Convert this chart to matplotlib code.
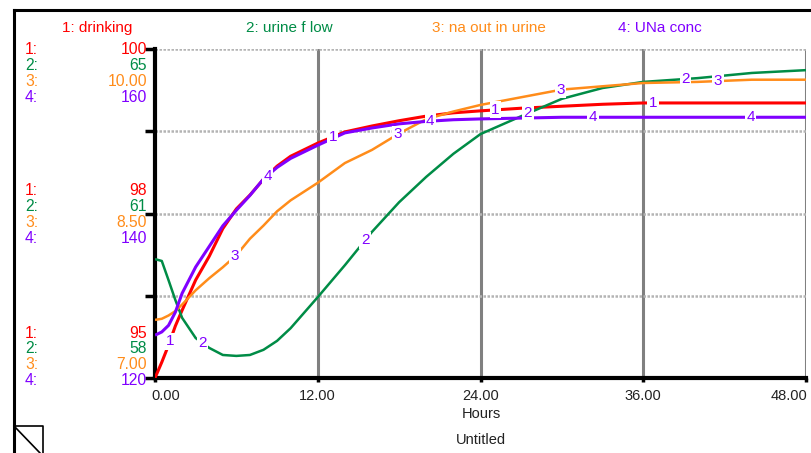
import numpy as np
import matplotlib.pyplot as plt
from matplotlib.lines import Line2D
from matplotlib.transforms import ScaledTranslation

plt.rcParams['font.family'] = ['Liberation Sans', 'DejaVu Sans']

# simulation output (hours)
hours = [0, 0.5, 1, 1.5, 2, 3, 4, 5, 6, 7, 8, 9, 10, 12, 14, 16, 18, 20, 22, 24,
         27, 30, 33, 36, 40, 44, 48]
drinking = [95.0, 95.24, 95.5, 95.79, 96.03, 96.49, 96.85, 97.27, 97.57, 97.78,
            98.02, 98.22, 98.37, 98.57, 98.74, 98.83, 98.91, 98.98, 99.03, 99.06,
            99.10, 99.13, 99.16, 99.18, 99.18, 99.18, 99.18]
urine_flow = [60.53, 60.49, 60.08, 59.66, 59.28, 58.85, 58.64, 58.49, 58.47, 58.49,
              58.60, 58.79, 59.06, 59.72, 60.40, 61.11, 61.74, 62.28, 62.77, 63.19,
              63.57, 63.94, 64.17, 64.30, 64.38, 64.49, 64.55]
na_out = [7.53, 7.54, 7.57, 7.61, 7.67, 7.80, 7.91, 8.01, 8.12, 8.27,
          8.39, 8.52, 8.62, 8.78, 8.96, 9.08, 9.23, 9.36, 9.43, 9.49,
          9.56, 9.63, 9.66, 9.69, 9.70, 9.72, 9.72]
una_conc = [125.2, 125.6, 126.4, 128.0, 130.3, 133.5, 136.0, 138.5, 140.4, 142.2,
            144.2, 145.6, 146.7, 148.3, 149.8, 150.4, 150.9, 151.2, 151.4, 151.5,
            151.6, 151.7, 151.7, 151.7, 151.7, 151.7, 151.7]

names = ["drinking", "urine f low", "na out in urine", "UNa conc"]
series = [drinking, urine_flow, na_out, una_conc]
scale_lo = [95, 58, 7, 120]
scale_hi = [100, 65, 10, 160]
scale_top = ["100", "65", "10.00", "160"]
scale_mid = ["98", "61", "8.50", "140"]
scale_bot = ["95", "58", "7.00", "120"]
colors = ["#ff0000", "#008c46", "#ff8c1a", "#8000ff"]
xticks = [0, 12, 24, 36, 48]

W, H = 811, 453
fig = plt.figure(figsize=(W / 100, H / 100), dpi=100)
ax = fig.add_axes([155 / W, 1 - 378 / H, (806 - 155) / W, 329 / H])

# grid
for x in xticks[1:]:
    ax.axvline(x, color="#808080", lw=2.2, zorder=1)
for y in [0.25, 0.5, 0.75, 1.0]:
    ax.axhline(y, color="#b4b4b4", lw=1.8, ls=(0, (1, 0.6)), zorder=1)

# each variable on its own scale
widths = [2.2, 1.8, 1.8, 2.2]
for k, (vals, lo, hi, c) in enumerate(zip(series, scale_lo, scale_hi, colors)):
    v = (np.array(vals) - lo) / (hi - lo)
    ax.plot(hours, v, color=c, lw=widths[k], zorder=3 + k, solid_capstyle="butt")

# number labels along the curves
label_spacing = 2.4
for i in range(4):
    for k in range(4):
        t = 1.1 + 12 * i + label_spacing * k
        if i > 0:
            t = 13.1 + (i - 1) * 12 + label_spacing * k - (0.4 if i == 3 else 0)
        v = (np.interp(t, hours, series[k]) - scale_lo[k]) / (scale_hi[k] - scale_lo[k])
        ax.text(t, v, str(k + 1), color="#8000ff", fontsize=11, ha="center",
                va="center", zorder=10,
                bbox=dict(boxstyle="square,pad=0.1", fc="white", ec="none"))

ax.set_xlim(0, 48)
ax.set_ylim(0, 1)
ax.set_yticks([0, 0.25, 0.5, 0.75, 1.0])
ax.set_yticklabels([])
ax.tick_params(axis="y", direction="out", length=7, width=2.5, color="black")
ax.set_xticks(xticks)
ax.set_xticklabels(["%.2f" % x for x in xticks], fontsize=10.5, color="#222222")
ax.tick_params(axis="x", direction="out", length=3, width=2.5, pad=5)
lbls = ax.get_xticklabels()
lbls[0].set_transform(lbls[0].get_transform() + ScaledTranslation(0.11, 0, fig.dpi_scale_trans))
lbls[-1].set_transform(lbls[-1].get_transform() + ScaledTranslation(-0.17, 0, fig.dpi_scale_trans))

ax.spines["left"].set_linewidth(3)
ax.spines["bottom"].set_linewidth(3)
ax.spines["top"].set_visible(False)
ax.spines["right"].set_visible(False)

# title row with variable names
for k, (x0, name) in enumerate(zip([62, 246, 432, 618], names)):
    fig.text(x0 / W, 1 - 28 / H, "%d: %s" % (k + 1, name), color=colors[k],
             fontsize=11, va="center", ha="left")

# scale labels on the left
for labels, y0 in [(scale_top, 50), (scale_mid, 191), (scale_bot, 333)]:
    for k in range(4):
        yy = 1 - (y0 + 15.8 * k) / H
        fig.text(25 / W, yy, "%d:" % (k + 1), color=colors[k], fontsize=11.3,
                 va="center", ha="left")
        fig.text(147 / W, yy, labels[k], color=colors[k], fontsize=11.3,
                 va="center", ha="right")

fig.text(481 / W, 1 - 414 / H, "Hours", fontsize=10.5, ha="center", va="center",
         color="#222222")
fig.text(481 / W, 1 - 440 / H, "Untitled", fontsize=10.5, ha="center", va="center",
         color="#222222")

# window frame and page corner
def px_line(xs, ys, lw):
    fig.add_artist(Line2D([x / W for x in xs], [1 - y / H for y in ys],
                          color="black", lw=lw))

px_line([14, 811], [10, 10], 2.2)
px_line([14, 14], [10, 453], 2.2)
px_line([14, 43, 43], [426, 426, 453], 1.2)
px_line([14, 40], [426, 453], 1.2)

fig.savefig("out.png", dpi=100)
